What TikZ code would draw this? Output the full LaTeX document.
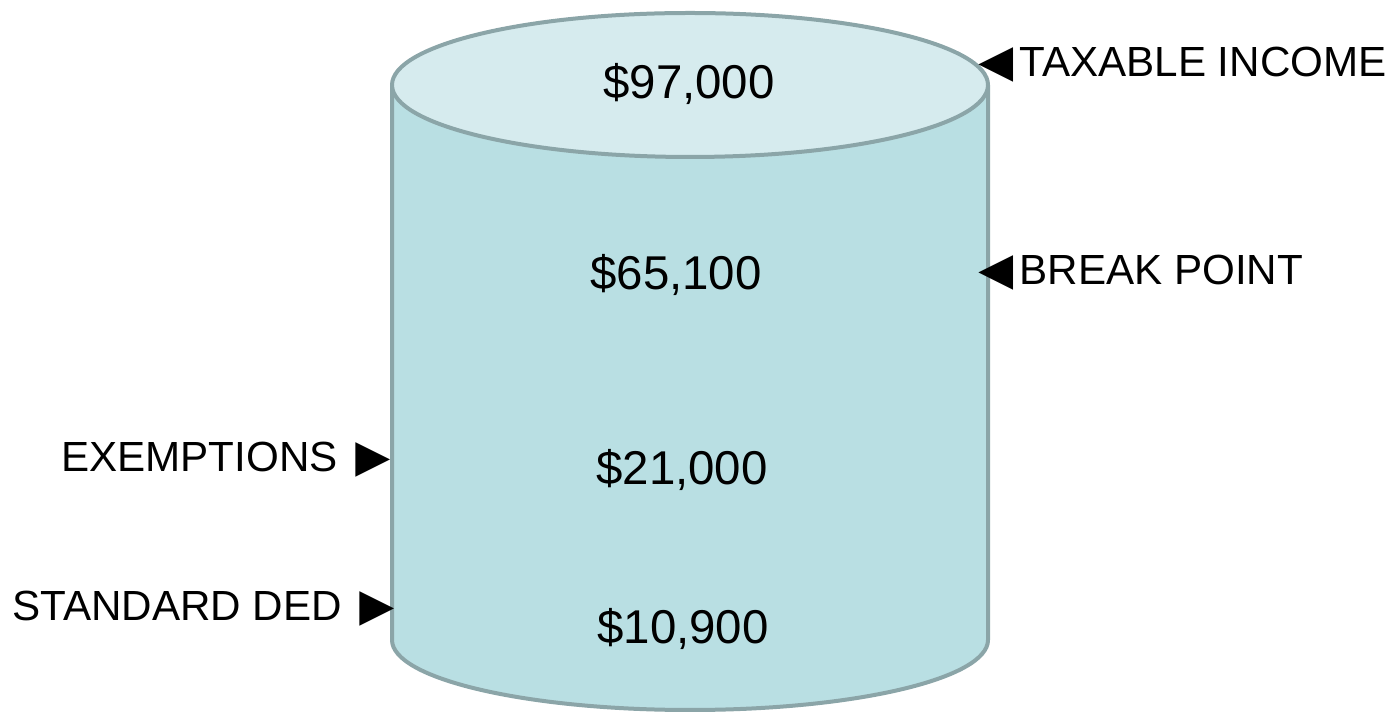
\documentclass[tikz,border=0pt]{standalone}
\usepackage{fontspec}
\setmainfont{Liberation Sans}
\usepackage{xcolor}
\definecolor{drumside}{HTML}{B9DFE3}
\definecolor{drumtop}{HTML}{D6EBEE}
\definecolor{drumrim}{HTML}{8BA5A8}
\newcommand{\lpoint}{\raisebox{-0.1cm}{\fontsize{33}{33}\selectfont ◄}}
\newcommand{\rpoint}{\raisebox{-0.1cm}{\fontsize{33}{33}\selectfont ►}}

\begin{document}
\begin{tikzpicture}[line cap=round,line join=round,x=0.02cm,y=0.02cm,
  amount/.style={font=\fontsize{27}{32}\selectfont,inner sep=0pt,anchor=base},
  tag/.style={font=\fontsize{24}{28}\selectfont,inner sep=0pt}]
\useasboundingbox (0,0) rectangle (1397,713);
% the drum
\draw[drumrim,line width=0.08cm,fill=drumside] (392,628) -- (392,73) arc[start angle=180,end angle=360,x radius=298,y radius=70] -- (988,628);
\draw[drumrim,line width=0.08cm,fill=drumtop] (690,628) ellipse [x radius=298,y radius=72];
% amounts
\node[amount] (v97) at (689,614) {\$97,000};
\node[amount] (v65) at (676,423) {\$65,100};
\node[amount] (v21) at (682,228) {\$21,000};
\node[amount] (v10) at (683,69) {\$10,900};
% side labels
\node[tag,anchor=base west] (taxinc) at (967,636) {\lpoint\kern-3pt TAXABLE INCOME};
\node[tag,anchor=base west] (brkpt) at (967,428) {\lpoint\kern-3pt BREAK POINT};
\node[tag,anchor=base east] (exempt) at (402,241) {EXEMPTIONS\kern-3pt\ \rpoint};
\node[tag,anchor=base east] (stdded) at (406,92) {STANDARD DED\kern-3pt\ \rpoint};
\end{tikzpicture}
\end{document}
